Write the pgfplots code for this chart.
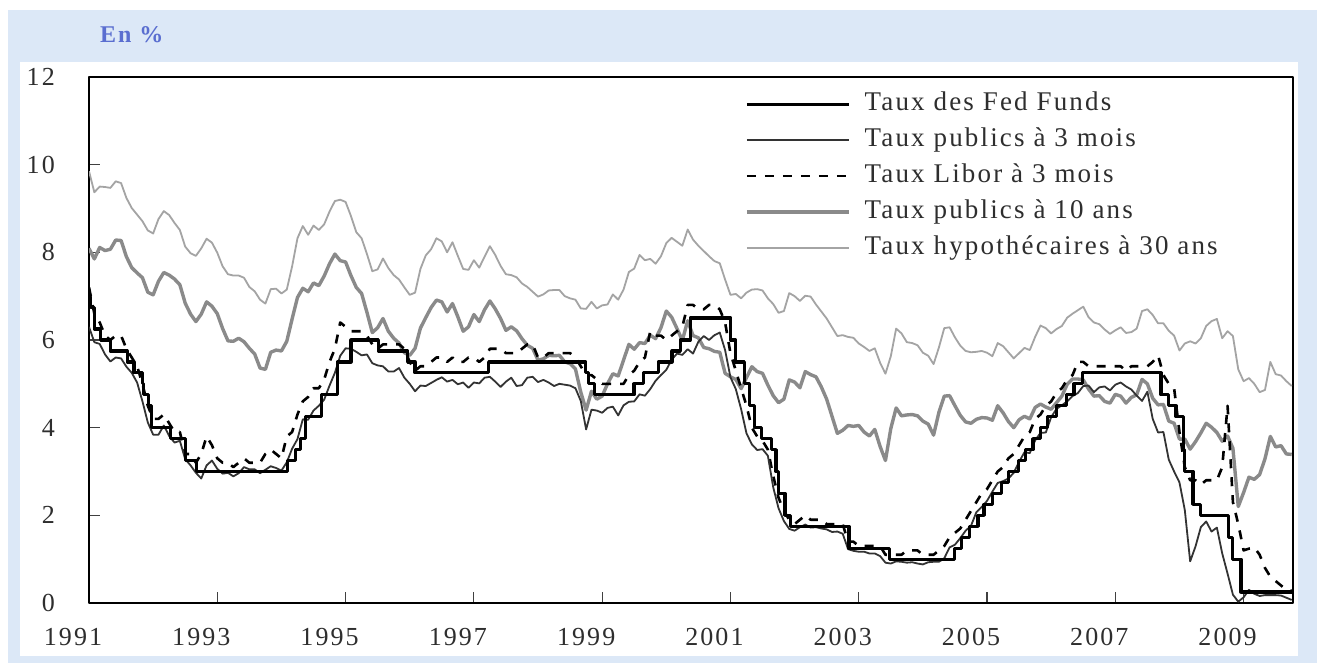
\documentclass[border=0pt]{standalone}
\usepackage{fontspec}
\setmainfont[LetterSpace=8]{Liberation Serif}
\usepackage{pgfplots}
\pgfplotsset{compat=1.18}
\usepackage{pgfplotstable}
\definecolor{bgblue}{HTML}{DCE8F7}
\definecolor{enblue}{HTML}{5A6ED0}
\definecolor{txt}{HTML}{2E2E2E}
\definecolor{tengray}{HTML}{8A8A8A}
\definecolor{mortgray}{HTML}{A4A4A4}
\definecolor{tbgray}{HTML}{333333}

% monthly data: 3-month T-bill, 3-month Libor, 10-year Treasury, 30-year mortgage
\pgfplotstableread{
yr m tb lib t10 mtg
1991 1 6.30 7.20 8.09 9.85
1991 2 5.95 6.60 7.85 9.37
1991 3 5.91 6.40 8.11 9.50
1991 4 5.67 6.10 8.04 9.49
1991 5 5.51 6.00 8.07 9.47
1991 6 5.60 6.10 8.28 9.62
1991 7 5.58 6.10 8.27 9.58
1991 8 5.39 5.80 7.90 9.24
1991 9 5.25 5.60 7.65 9.01
1991 10 5.03 5.40 7.53 8.86
1991 11 4.60 5.00 7.42 8.71
1991 12 4.12 4.50 7.09 8.50
1992 1 3.84 4.20 7.03 8.43
1992 2 3.84 4.20 7.34 8.76
1992 3 4.05 4.30 7.54 8.94
1992 4 3.81 4.10 7.48 8.85
1992 5 3.66 3.90 7.39 8.67
1992 6 3.70 3.90 7.26 8.51
1992 7 3.28 3.40 6.84 8.13
1992 8 3.14 3.40 6.59 7.98
1992 9 2.97 3.20 6.42 7.92
1992 10 2.84 3.40 6.59 8.09
1992 11 3.14 3.80 6.87 8.31
1992 12 3.25 3.60 6.77 8.22
1993 1 3.06 3.30 6.60 7.99
1993 2 2.95 3.20 6.26 7.68
1993 3 2.97 3.20 5.98 7.50
1993 4 2.89 3.10 5.97 7.47
1993 5 2.96 3.20 6.04 7.47
1993 6 3.10 3.30 5.96 7.42
1993 7 3.05 3.20 5.81 7.21
1993 8 3.05 3.20 5.68 7.11
1993 9 2.96 3.20 5.36 6.92
1993 10 3.04 3.40 5.33 6.83
1993 11 3.12 3.50 5.72 7.16
1993 12 3.08 3.40 5.77 7.17
1994 1 3.02 3.30 5.75 7.06
1994 2 3.21 3.80 5.97 7.15
1994 3 3.52 3.90 6.48 7.68
1994 4 3.74 4.30 6.97 8.32
1994 5 4.19 4.60 7.18 8.60
1994 6 4.18 4.70 7.10 8.40
1994 7 4.39 4.90 7.30 8.61
1994 8 4.50 4.90 7.24 8.51
1994 9 4.64 5.10 7.46 8.64
1994 10 4.96 5.50 7.74 8.93
1994 11 5.25 5.80 7.96 9.17
1994 12 5.64 6.40 7.81 9.20
1995 1 5.81 6.30 7.78 9.15
1995 2 5.80 6.20 7.47 8.83
1995 3 5.73 6.20 7.20 8.46
1995 4 5.65 6.20 7.06 8.32
1995 5 5.67 6.10 6.63 7.96
1995 6 5.47 5.90 6.17 7.57
1995 7 5.42 5.80 6.28 7.61
1995 8 5.40 5.90 6.49 7.86
1995 9 5.28 5.90 6.20 7.64
1995 10 5.28 5.90 6.04 7.48
1995 11 5.36 5.90 5.93 7.38
1995 12 5.14 5.80 5.71 7.20
1996 1 5.00 5.50 5.65 7.03
1996 2 4.83 5.30 5.81 7.08
1996 3 4.96 5.40 6.27 7.62
1996 4 4.95 5.40 6.51 7.93
1996 5 5.02 5.50 6.74 8.07
1996 6 5.09 5.60 6.91 8.32
1996 7 5.15 5.60 6.87 8.25
1996 8 5.05 5.50 6.64 8.00
1996 9 5.09 5.60 6.83 8.23
1996 10 4.99 5.50 6.53 7.92
1996 11 5.03 5.50 6.20 7.62
1996 12 4.91 5.60 6.30 7.60
1997 1 5.03 5.60 6.58 7.82
1997 2 5.01 5.50 6.42 7.65
1997 3 5.14 5.60 6.69 7.90
1997 4 5.16 5.80 6.89 8.14
1997 5 5.05 5.80 6.71 7.94
1997 6 4.93 5.80 6.49 7.69
1997 7 5.05 5.70 6.22 7.50
1997 8 5.14 5.70 6.30 7.48
1997 9 4.95 5.70 6.21 7.43
1997 10 4.97 5.80 6.03 7.29
1997 11 5.14 5.90 5.88 7.21
1997 12 5.16 5.90 5.81 7.10
1998 1 5.04 5.60 5.54 6.99
1998 2 5.09 5.60 5.57 7.04
1998 3 5.03 5.70 5.65 7.13
1998 4 4.95 5.70 5.64 7.14
1998 5 5.00 5.70 5.65 7.14
1998 6 4.98 5.70 5.50 7.00
1998 7 4.96 5.70 5.46 6.95
1998 8 4.90 5.60 5.34 6.92
1998 9 4.61 5.40 4.81 6.72
1998 10 3.96 5.20 4.40 6.71
1998 11 4.41 5.20 4.83 6.87
1998 12 4.39 5.10 4.65 6.72
1999 1 4.34 5.00 4.72 6.79
1999 2 4.45 5.00 5.00 6.81
1999 3 4.48 5.00 5.23 7.04
1999 4 4.28 5.00 5.18 6.92
1999 5 4.51 5.00 5.54 7.15
1999 6 4.59 5.20 5.90 7.55
1999 7 4.60 5.30 5.79 7.63
1999 8 4.76 5.50 5.94 7.94
1999 9 4.73 5.60 5.92 7.82
1999 10 4.88 6.20 6.11 7.85
1999 11 5.07 6.10 6.03 7.74
1999 12 5.20 6.10 6.28 7.91
2000 1 5.32 6.00 6.66 8.21
2000 2 5.55 6.10 6.52 8.33
2000 3 5.69 6.20 6.26 8.24
2000 4 5.66 6.30 5.99 8.15
2000 5 5.79 6.80 6.44 8.52
2000 6 5.69 6.80 6.10 8.29
2000 7 5.96 6.70 6.05 8.15
2000 8 6.09 6.70 5.83 8.03
2000 9 6.00 6.80 5.80 7.91
2000 10 6.11 6.80 5.74 7.80
2000 11 6.17 6.70 5.72 7.75
2000 12 5.77 6.40 5.24 7.38
2001 1 5.15 5.70 5.16 7.03
2001 2 4.88 5.30 5.10 7.05
2001 3 4.42 4.90 4.89 6.95
2001 4 3.87 4.50 5.14 7.08
2001 5 3.62 4.00 5.39 7.15
2001 6 3.49 3.80 5.28 7.16
2001 7 3.51 3.70 5.24 7.13
2001 8 3.36 3.50 4.97 6.95
2001 9 2.64 2.90 4.73 6.82
2001 10 2.16 2.40 4.57 6.62
2001 11 1.87 2.10 4.65 6.66
2001 12 1.69 1.90 5.09 7.07
2002 1 1.65 1.80 5.04 7.00
2002 2 1.73 1.90 4.91 6.89
2002 3 1.79 2.00 5.28 7.01
2002 4 1.72 1.90 5.21 6.99
2002 5 1.73 1.90 5.16 6.81
2002 6 1.70 1.90 4.93 6.65
2002 7 1.68 1.80 4.65 6.49
2002 8 1.62 1.80 4.26 6.29
2002 9 1.63 1.80 3.87 6.09
2002 10 1.58 1.80 3.94 6.11
2002 11 1.23 1.40 4.05 6.07
2002 12 1.19 1.40 4.03 6.05
2003 1 1.17 1.30 4.05 5.92
2003 2 1.17 1.30 3.90 5.84
2003 3 1.13 1.30 3.81 5.75
2003 4 1.13 1.30 3.96 5.81
2003 5 1.07 1.30 3.57 5.48
2003 6 0.92 1.10 3.25 5.23
2003 7 0.90 1.10 3.98 5.63
2003 8 0.95 1.10 4.45 6.26
2003 9 0.94 1.10 4.27 6.15
2003 10 0.92 1.20 4.29 5.95
2003 11 0.93 1.20 4.30 5.93
2003 12 0.90 1.20 4.27 5.88
2004 1 0.88 1.10 4.15 5.71
2004 2 0.93 1.10 4.08 5.64
2004 3 0.94 1.10 3.83 5.45
2004 4 0.94 1.20 4.35 5.83
2004 5 1.02 1.30 4.72 6.27
2004 6 1.27 1.50 4.73 6.29
2004 7 1.33 1.60 4.50 6.06
2004 8 1.48 1.70 4.28 5.87
2004 9 1.65 1.90 4.13 5.75
2004 10 1.76 2.10 4.10 5.72
2004 11 2.07 2.30 4.19 5.73
2004 12 2.19 2.50 4.23 5.75
2005 1 2.33 2.60 4.22 5.71
2005 2 2.54 2.80 4.17 5.63
2005 3 2.74 3.00 4.50 5.93
2005 4 2.78 3.10 4.34 5.86
2005 5 2.84 3.30 4.14 5.72
2005 6 2.97 3.40 4.00 5.58
2005 7 3.22 3.60 4.18 5.70
2005 8 3.44 3.80 4.26 5.82
2005 9 3.42 3.90 4.20 5.77
2005 10 3.71 4.20 4.46 6.07
2005 11 3.88 4.30 4.54 6.33
2005 12 3.89 4.50 4.47 6.27
2006 1 4.24 4.60 4.42 6.15
2006 2 4.43 4.80 4.57 6.25
2006 3 4.51 4.90 4.72 6.32
2006 4 4.60 5.10 4.99 6.51
2006 5 4.72 5.20 5.11 6.60
2006 6 4.79 5.50 5.11 6.68
2006 7 4.95 5.50 5.09 6.76
2006 8 4.96 5.40 4.88 6.52
2006 9 4.81 5.40 4.72 6.40
2006 10 4.92 5.40 4.73 6.36
2006 11 4.94 5.40 4.60 6.24
2006 12 4.85 5.40 4.56 6.14
2007 1 4.98 5.40 4.76 6.22
2007 2 5.03 5.40 4.72 6.29
2007 3 4.94 5.30 4.56 6.16
2007 4 4.87 5.40 4.69 6.18
2007 5 4.73 5.40 4.75 6.26
2007 6 4.61 5.40 5.10 6.66
2007 7 4.82 5.40 5.00 6.70
2007 8 4.20 5.50 4.67 6.57
2007 9 3.89 5.65 4.52 6.38
2007 10 3.90 5.20 4.53 6.38
2007 11 3.27 5.00 4.15 6.21
2007 12 3.00 4.90 4.10 6.10
2008 1 2.75 3.90 3.74 5.76
2008 2 2.12 3.10 3.74 5.92
2008 3 0.95 2.80 3.51 5.97
2008 4 1.29 2.80 3.68 5.92
2008 5 1.73 2.70 3.88 6.04
2008 6 1.86 2.80 4.10 6.32
2008 7 1.63 2.80 4.01 6.43
2008 8 1.72 2.80 3.89 6.48
2008 9 1.13 3.10 3.69 6.04
2008 10 0.67 4.50 3.81 6.20
2008 11 0.19 2.30 3.53 6.09
2008 12 0.03 1.80 2.20 5.33
2009 1 0.13 1.20 2.52 5.06
2009 2 0.30 1.24 2.87 5.13
2009 3 0.21 1.27 2.82 5.00
2009 4 0.16 1.10 2.93 4.81
2009 5 0.18 0.80 3.29 4.86
2009 6 0.18 0.60 3.80 5.50
2009 7 0.18 0.50 3.56 5.22
2009 8 0.17 0.40 3.59 5.19
2009 9 0.12 0.30 3.40 5.06
2009 10 0.07 0.28 3.39 4.95
}\ratesdata

% Fed funds target (step changes)
\pgfplotstableread{
t r
1991.000 7.00
1991.022 6.75
1991.085 6.25
1991.181 6.00
1991.329 5.75
1991.595 5.50
1991.700 5.25
1991.830 5.00
1991.849 4.75
1991.932 4.50
1991.970 4.00
1992.271 3.75
1992.500 3.25
1992.674 3.00
1994.096 3.25
1994.222 3.50
1994.293 3.75
1994.373 4.25
1994.625 4.75
1994.874 5.50
1995.085 6.00
1995.512 5.75
1995.967 5.50
1996.082 5.25
1997.230 5.50
1998.745 5.25
1998.786 5.00
1998.877 4.75
1999.496 5.00
1999.645 5.25
1999.874 5.50
2000.090 5.75
2000.219 6.00
2000.373 6.50
2001.005 6.00
2001.082 5.50
2001.216 5.00
2001.293 4.50
2001.370 4.00
2001.488 3.75
2001.638 3.50
2001.710 3.00
2001.751 2.50
2001.849 2.00
2001.942 1.75
2002.849 1.25
2003.481 1.00
2004.496 1.25
2004.608 1.50
2004.721 1.75
2004.860 2.00
2004.953 2.25
2005.088 2.50
2005.222 2.75
2005.334 3.00
2005.496 3.25
2005.605 3.50
2005.718 3.75
2005.836 4.00
2005.948 4.25
2006.082 4.50
2006.238 4.75
2006.356 5.00
2006.493 5.25
2007.712 4.75
2007.830 4.50
2007.945 4.25
2008.058 3.50
2008.079 3.00
2008.211 2.25
2008.329 2.00
2008.770 1.50
2008.827 1.00
2008.959 0.25
2009.800 0.25
}\fedfunds

\begin{document}
\begin{tikzpicture}[x=1bp,y=1bp]
\fill[white] (0,0) rectangle (1317,663);
\fill[bgblue] (8,0) rectangle (1317,653);
\fill[white] (20,7) rectangle (1298,601);
\node[anchor=west, text=enblue, inner sep=0pt,
      font=\bfseries\fontsize{24bp}{28bp}\selectfont] at (100,628) {En \%};
\begin{axis}[
  at={(89bp,60bp)}, anchor=south west,
  scale only axis, width=1204bp, height=526bp,
  xmin=1991, xmax=2009.77, ymin=0, ymax=12,
  axis line style={line width=2.6bp, black},
  xtick={1991,1993,1995,1997,1999,2001,2003,2005,2007,2009},
  xticklabels={1991,1993,1995,1997,1999,2001,2003,2005,2007,2009},
  ytick={0,2,4,6,8,10,12},
  tick align=inside, xtick pos=bottom, ytick pos=left,
  major tick length=11bp,
  tick style={line width=1.2bp, black!75},
  /pgf/number format/assume math mode=true,
  tick label style={font=\fontsize{26bp}{30bp}\selectfont, text=txt},
  xticklabel style={anchor=north, inner sep=0pt, yshift=-25bp, xshift=-16bp},
  yticklabel style={anchor=east, inner sep=0pt, xshift=-34bp},
  legend cell align=left,
  reverse legend,
  legend style={at={(axis description cs:0.5449,0.9715)}, anchor=north west,
    draw=none, fill=none, inner sep=0pt, row sep=12bp,
    font=\fontsize{27bp}{31bp}\selectfont, text=txt,
    nodes={inner sep=0pt, text height=18bp, text depth=6bp}},
  legend image code/.code={\draw[#1] plot coordinates {(0bp,0bp) (102bp,0bp)}; \path (116bp,0bp);},
  line join=round,
]
\addplot[color=mortgray, line width=1.8bp]
  table[x expr=\thisrow{yr}+(\thisrow{m}-1)/12, y=mtg]{\ratesdata};
\addlegendentry{Taux hypothécaires à 30 ans}
\addplot[color=tengray, line width=3.4bp]
  table[x expr=\thisrow{yr}+(\thisrow{m}-1)/12, y=t10]{\ratesdata};
\addlegendentry{Taux publics à 10 ans}
\addplot[color=black, line width=2.6bp, dash pattern=on 9bp off 9bp]
  table[x expr=\thisrow{yr}+(\thisrow{m}-1)/12, y=lib]{\ratesdata};
\addlegendentry{Taux Libor à 3 mois}
\addplot[color=tbgray, line width=1.8bp]
  table[x expr=\thisrow{yr}+(\thisrow{m}-1)/12, y=tb]{\ratesdata};
\addlegendentry{Taux publics à 3 mois}
\addplot[color=black, line width=3.2bp, const plot]
  table[x=t, y=r]{\fedfunds};
\addlegendentry{Taux des Fed Funds}
\end{axis}
\end{tikzpicture}
\end{document}
